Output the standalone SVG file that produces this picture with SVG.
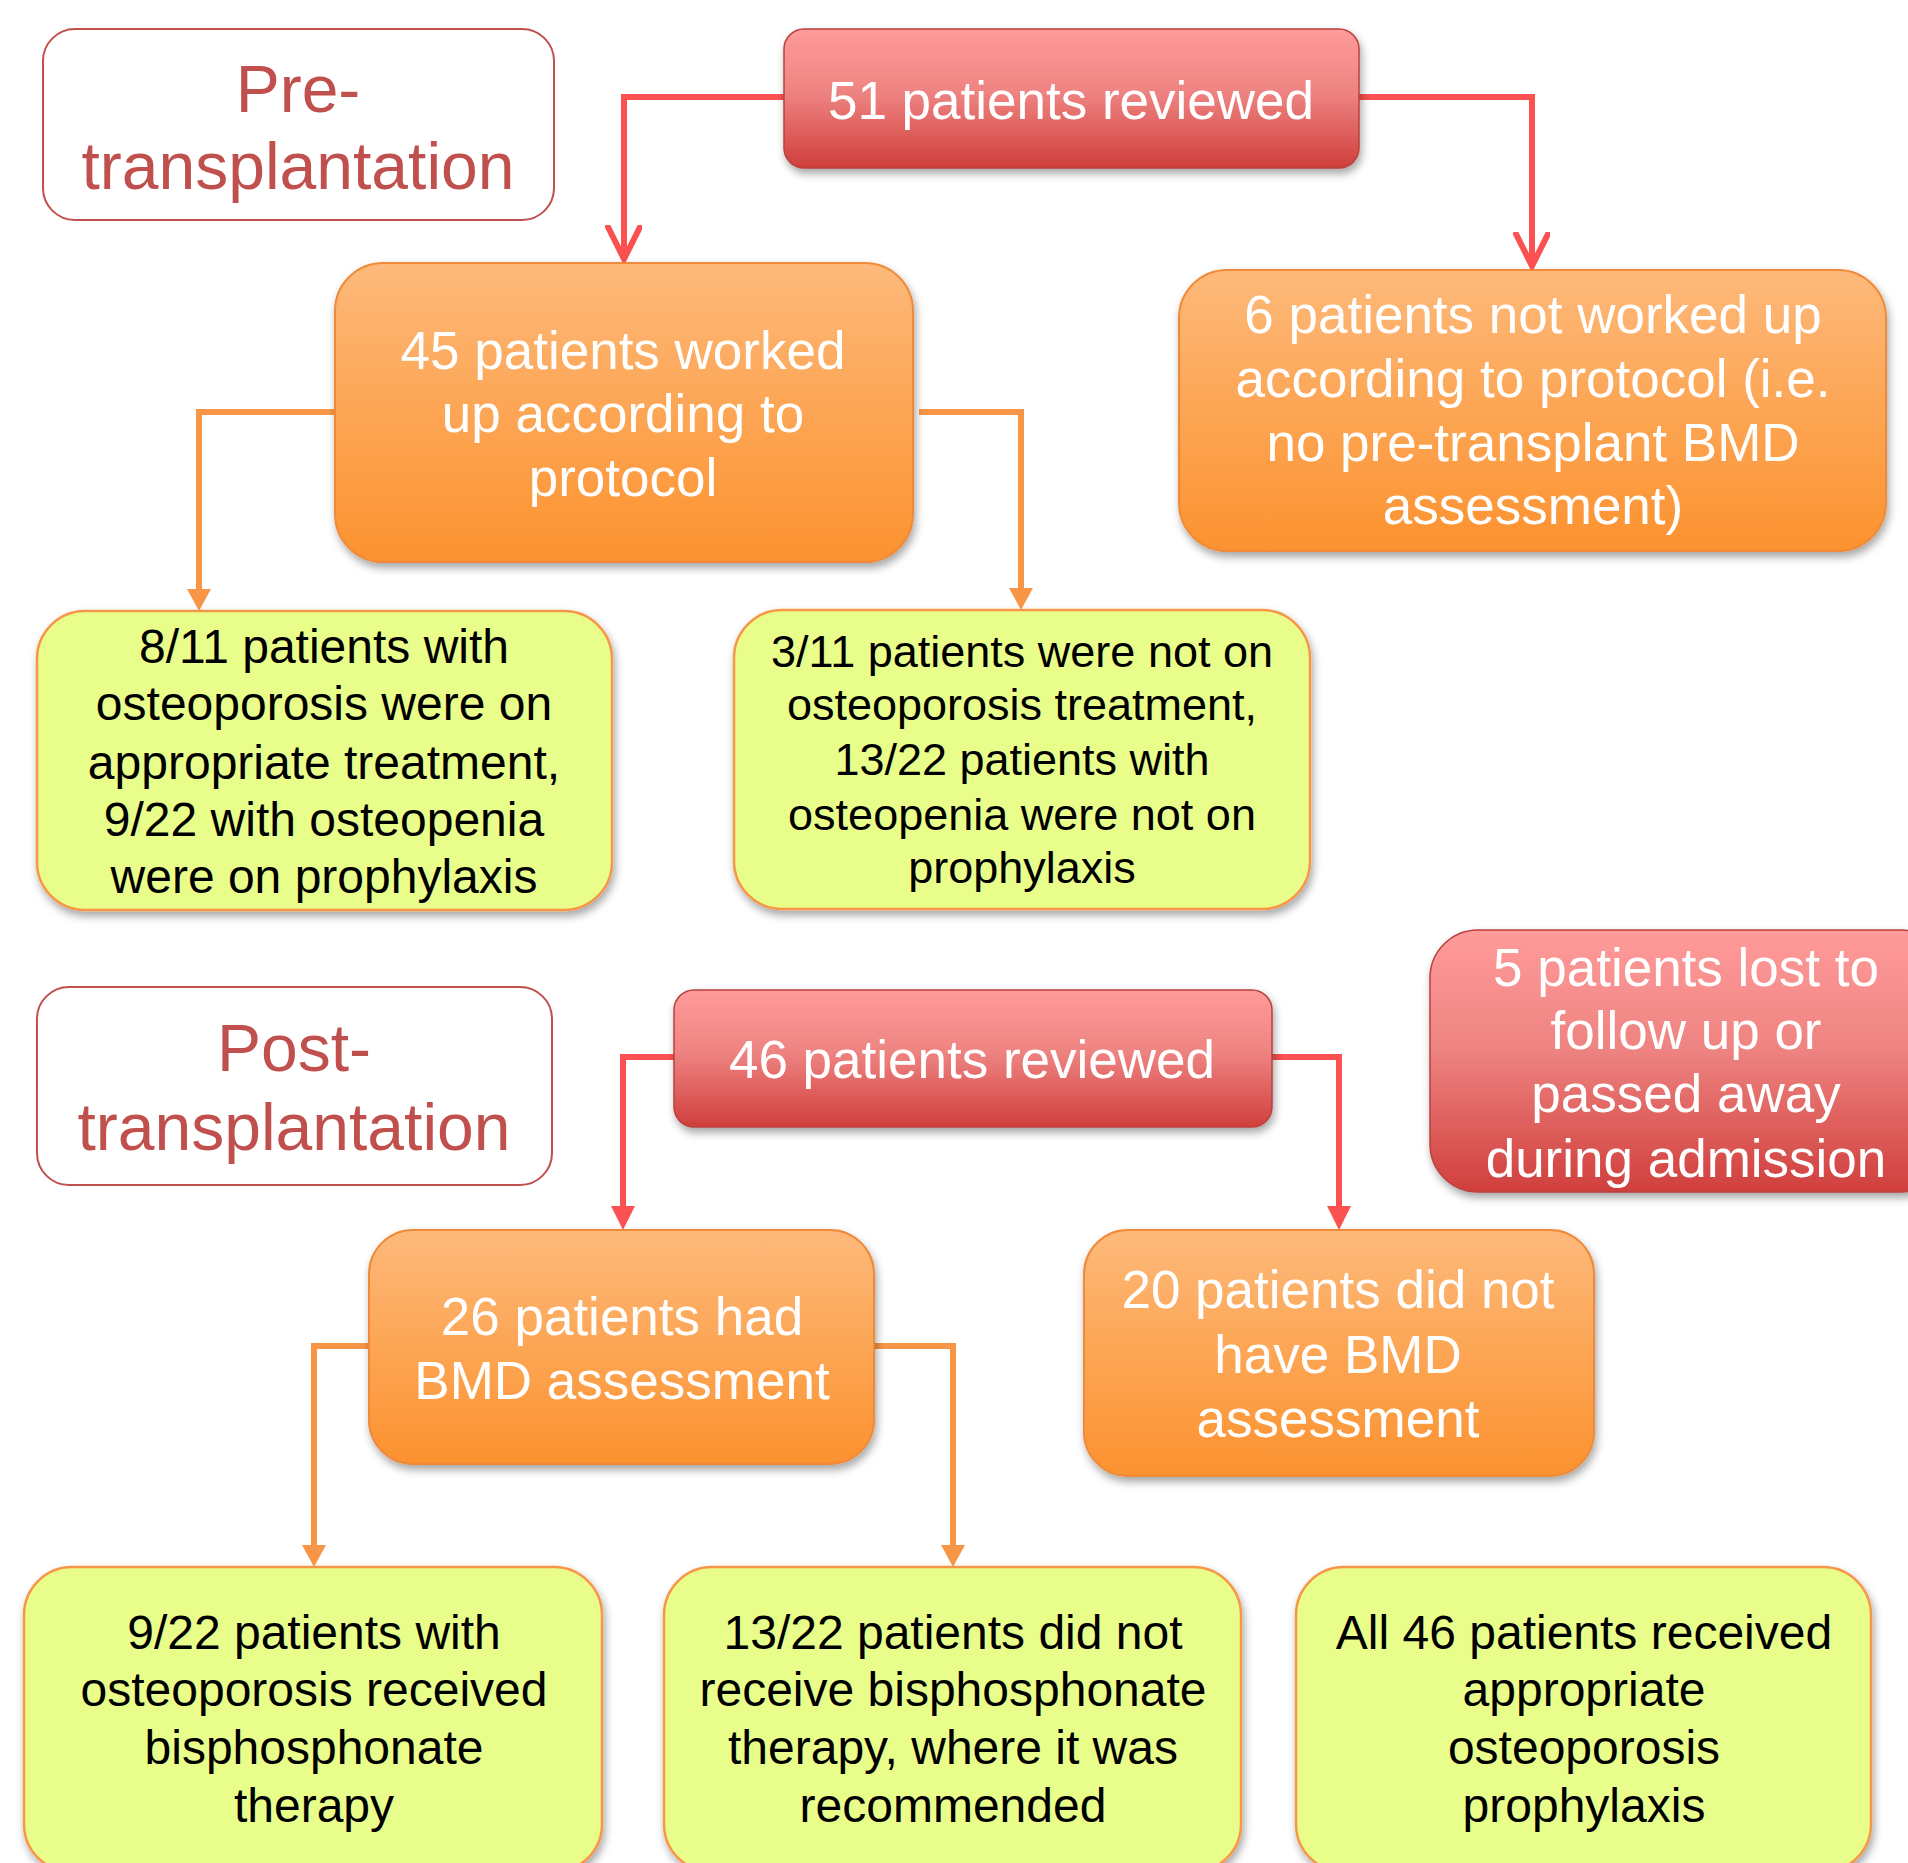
<svg xmlns="http://www.w3.org/2000/svg" width="1908" height="1863" viewBox="0 0 1908 1863">
<style>
text{font-family:"Liberation Sans",Arial,sans-serif;text-anchor:middle}
.lbl{fill:#c0504d;font-size:66px}
.wt{fill:#ffffff;font-size:53px}
.bk{fill:#000000;font-size:48px}
.bk2{fill:#000000;font-size:45px}
.label{fill:#ffffff;stroke:#c0504d;stroke-width:2}
.red{fill:url(#gRed);stroke:#b8423f;stroke-width:1.5;filter:url(#sh)}
.org{fill:url(#gOrg);stroke:#f08a3a;stroke-width:2;filter:url(#sh)}
.grn{fill:#e9fd8b;stroke:#f79646;stroke-width:2.5;filter:url(#sh)}
.cr{stroke:#fb5151;stroke-width:6;fill:none}
.co{stroke:#f79646;stroke-width:6;fill:none}
</style>
<defs>
<linearGradient id="gRed" x1="0" y1="0" x2="0" y2="1">
<stop offset="0" stop-color="#ff9b99"/><stop offset="0.45" stop-color="#ee8482"/><stop offset="1" stop-color="#d03f3c"/>
</linearGradient>
<linearGradient id="gOrg" x1="0" y1="0" x2="0" y2="1">
<stop offset="0" stop-color="#fdb97a"/><stop offset="1" stop-color="#fc922f"/>
</linearGradient>
<filter id="sh" x="-10%" y="-10%" width="125%" height="130%">
<feDropShadow dx="2" dy="5" stdDeviation="4" flood-color="#000" flood-opacity="0.35"/>
</filter>
<marker id="vRed" markerUnits="userSpaceOnUse" markerWidth="40" markerHeight="40" viewBox="0 0 40 40" refX="35" refY="18" orient="auto">
<path d="M2,2 L34,18 L2,34" fill="none" stroke="#fb5151" stroke-width="6" stroke-linejoin="miter" stroke-linecap="round"/>
</marker>
<marker id="tRed" markerUnits="userSpaceOnUse" markerWidth="26" markerHeight="26" viewBox="0 0 26 26" refX="0" refY="12" orient="auto">
<path d="M0,0 L24,12 L0,24 z" fill="#fb5151"/>
</marker>
<marker id="tOrg" markerUnits="userSpaceOnUse" markerWidth="26" markerHeight="26" viewBox="0 0 26 26" refX="0" refY="12" orient="auto">
<path d="M0,0 L22,12 L0,24 z" fill="#f79646"/>
</marker>
</defs>
<rect width="1908" height="1863" fill="#ffffff"/>

<g id="connectors">
<path class="cr" d="M784,97 H624 V260" marker-end="url(#vRed)"/>
<path class="cr" d="M1359,97 H1532 V267" marker-end="url(#vRed)"/>
<path class="co" d="M335,412 H199 V589" marker-end="url(#tOrg)"/>
<path class="co" d="M919,412 H1021 V588" marker-end="url(#tOrg)"/>
<path class="cr" d="M674,1057 H623 V1206" marker-end="url(#tRed)"/>
<path class="cr" d="M1272,1057 H1339 V1206" marker-end="url(#tRed)"/>
<path class="co" d="M369,1346 H314 V1545" marker-end="url(#tOrg)"/>
<path class="co" d="M874,1346 H953 V1545" marker-end="url(#tOrg)"/>
</g>

<g id="pre-label">
<rect class="label" x="43" y="29" width="511" height="191" rx="32"/>
<text class="lbl" x="298" y="112">Pre-</text>
<text class="lbl" x="298" y="189">transplantation</text>
</g>

<g id="n51">
<rect class="red" x="784" y="29" width="575" height="139" rx="20"/>
<text class="wt" x="1071" y="119">51 patients reviewed</text>
</g>

<g id="n45">
<rect class="org" x="335" y="263" width="578" height="299" rx="48"/>
<text class="wt" x="623" y="369">45 patients worked</text>
<text class="wt" x="623" y="432">up according to</text>
<text class="wt" x="623" y="496">protocol</text>
</g>

<g id="n6">
<rect class="org" x="1179" y="270" width="707" height="281" rx="48"/>
<text class="wt" x="1533" y="333">6 patients not worked up</text>
<text class="wt" x="1533" y="397">according to protocol (i.e.</text>
<text class="wt" x="1533" y="461">no pre-transplant BMD</text>
<text class="wt" x="1533" y="524">assessment)</text>
</g>

<g id="g8">
<rect class="grn" x="37" y="611" width="575" height="299" rx="48"/>
<text class="bk" x="324" y="663">8/11 patients with</text>
<text class="bk" x="324" y="720">osteoporosis were on</text>
<text class="bk" x="324" y="779">appropriate treatment,</text>
<text class="bk" x="324" y="836">9/22 with osteopenia</text>
<text class="bk" x="324" y="893">were on prophylaxis</text>
</g>

<g id="g3">
<rect class="grn" x="734" y="610" width="576" height="299" rx="48"/>
<text class="bk2" x="1022" y="667">3/11 patients were not on</text>
<text class="bk2" x="1022" y="720">osteoporosis treatment,</text>
<text class="bk2" x="1022" y="775">13/22 patients with</text>
<text class="bk2" x="1022" y="830">osteopenia were not on</text>
<text class="bk2" x="1022" y="883">prophylaxis</text>
</g>

<g id="post-label">
<rect class="label" x="37" y="987" width="515" height="198" rx="32"/>
<text class="lbl" x="294" y="1071">Post-</text>
<text class="lbl" x="294" y="1150">transplantation</text>
</g>

<g id="n46">
<rect class="red" x="674" y="990" width="598" height="137" rx="20"/>
<text class="wt" x="972" y="1078">46 patients reviewed</text>
</g>

<g id="n5">
<rect class="red" x="1430" y="930" width="520" height="262" rx="48"/>
<text class="wt" x="1686" y="986">5 patients lost to</text>
<text class="wt" x="1686" y="1049">follow up or</text>
<text class="wt" x="1686" y="1112">passed away</text>
<text class="wt" x="1686" y="1177">during admission</text>
</g>

<g id="n26">
<rect class="org" x="369" y="1230" width="505" height="234" rx="44"/>
<text class="wt" x="622" y="1335">26 patients had</text>
<text class="wt" x="622" y="1399">BMD assessment</text>
</g>

<g id="n20">
<rect class="org" x="1084" y="1230" width="510" height="246" rx="44"/>
<text class="wt" x="1338" y="1308">20 patients did not</text>
<text class="wt" x="1338" y="1373">have BMD</text>
<text class="wt" x="1338" y="1437">assessment</text>
</g>

<g id="g9">
<rect class="grn" x="24" y="1567" width="578" height="305" rx="48"/>
<text class="bk" x="314" y="1649">9/22 patients with</text>
<text class="bk" x="314" y="1706">osteoporosis received</text>
<text class="bk" x="314" y="1764">bisphosphonate</text>
<text class="bk" x="314" y="1822">therapy</text>
</g>

<g id="g13">
<rect class="grn" x="664" y="1567" width="577" height="305" rx="48"/>
<text class="bk" x="953" y="1649">13/22 patients did not</text>
<text class="bk" x="953" y="1706">receive bisphosphonate</text>
<text class="bk" x="953" y="1764">therapy, where it was</text>
<text class="bk" x="953" y="1822">recommended</text>
</g>

<g id="g46">
<rect class="grn" x="1296" y="1567" width="575" height="305" rx="48"/>
<text class="bk" x="1584" y="1649">All 46 patients received</text>
<text class="bk" x="1584" y="1706">appropriate</text>
<text class="bk" x="1584" y="1764">osteoporosis</text>
<text class="bk" x="1584" y="1822">prophylaxis</text>
</g>
</svg>
